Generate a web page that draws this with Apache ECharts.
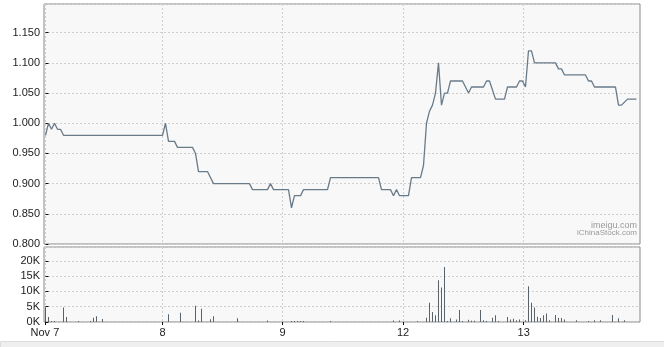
<!DOCTYPE html>
<html><head><meta charset="utf-8">
<script src="https://cdn.jsdelivr.net/npm/echarts@6/dist/echarts.min.js"></script>
<style>html,body{margin:0;padding:0;background:#fff}#c{width:664px;height:347px}</style>
</head><body><div id="c"></div>
<script>
// x positions are in ~10-minute trading slots from the first session start
const dayLabels = ['Nov 7', '8', '9', '12', '13'];
const dayStartSlots = [-0.2, 39, 79, 119.2, 159.4];

const priceSlots = [0,1,2,3,4,5,6,39,40,41,43,44,49,50,51,54,56,68,69,74,75,76,81,82,83,85,86,94,95,111,112,115,116,117,118,121,122,125,126,127,128,129,130,131,132,133,134,135,139,141,142,146,147,148,150,153,154,157,158,159,160,161,162,163,170,171,172,173,180,181,182,183,190,191,192,194,197];
const prices = [0.98,1.00,0.99,1.00,0.99,0.99,0.98,0.98,1.00,0.97,0.97,0.96,0.96,0.95,0.92,0.92,0.90,0.90,0.89,0.89,0.90,0.89,0.89,0.86,0.88,0.88,0.89,0.89,0.91,0.91,0.89,0.89,0.88,0.89,0.88,0.88,0.91,0.91,0.93,1.00,1.02,1.03,1.05,1.10,1.03,1.05,1.05,1.07,1.07,1.05,1.06,1.06,1.07,1.07,1.04,1.04,1.06,1.06,1.07,1.07,1.06,1.12,1.12,1.10,1.10,1.09,1.09,1.08,1.08,1.07,1.07,1.06,1.06,1.03,1.03,1.04,1.04];

const volumeSlots = [0,1,2,3,6,7,11,15,16,17,19,41,45,50,51,52,55,56,64,74,82,83,84,85,86,95,116,118,124,127,128,129,130,131,132,133,134,135,137,138,139,141,142,143,145,146,147,149,150,151,154,155,156,157,158,160,161,162,163,164,165,166,167,168,170,171,172,173,177,181,183,185,189,191,193];
const volumes = [4800,1600,300,300,4700,1600,300,300,1400,1900,1000,2500,3000,5300,500,4300,900,1900,1200,500,300,300,300,300,300,300,500,500,300,1400,6300,3300,2200,13600,11300,18000,300,1200,800,3900,300,700,400,400,3900,600,300,1400,2200,300,1600,800,1100,600,800,600,11700,6300,4700,1700,1300,2200,2800,600,2300,1300,1300,800,600,300,600,600,2300,1200,600];

const watermark = ['imeigu.com', 'iChinaStock.com'];

const chart = echarts.init(document.getElementById('c'), null, {renderer: 'canvas'});
const labelFont = {fontFamily: 'Liberation Sans, Arial, sans-serif', fontSize: 11, color: '#222'};
const dash = {show: true, lineStyle: {color: '#cfcfcf', type: [2, 2], width: 1}};

function xAxisCfg(gi, showLabels) {
  return {
    type: 'value', gridIndex: gi, min: -0.5, max: 198.17,
    axisLine: {show: false},
    axisTick: {show: showLabels, customValues: dayStartSlots, length: 3, inside: false, lineStyle: {color: '#111'}},
    axisLabel: Object.assign({
      show: showLabels, customValues: dayStartSlots, margin: 5,
      formatter: function (v) {
        let best = 0;
        for (let i = 0; i < dayStartSlots.length; i++) if (Math.abs(dayStartSlots[i] - v) < Math.abs(dayStartSlots[best] - v)) best = i;
        return dayLabels[best];
      }
    }, labelFont),
    splitLine: dash
  };
}

chart.setOption({
  animation: false,
  backgroundColor: '#ffffff',
  grid: [
    {left: 44, top: 4, width: 596, height: 240, show: true, backgroundColor: '#f8f8f8', borderColor: '#8a8a8a', borderWidth: 1},
    {left: 44, top: 247, width: 596, height: 75, show: true, backgroundColor: '#f8f8f8', borderColor: '#8a8a8a', borderWidth: 1}
  ],
  xAxis: [xAxisCfg(0, false), xAxisCfg(1, true)],
  yAxis: [
    {
      type: 'value', gridIndex: 0, min: 0.8, max: 1.1975, interval: 0.05,
      axisLine: {show: false},
      axisTick: {show: true, inside: true, length: 3, lineStyle: {color: '#111'}},
      axisLabel: Object.assign({margin: 4, showMaxLabel: false, formatter: v => v.toFixed(3)}, labelFont),
      splitLine: dash
    },
    {
      type: 'value', gridIndex: 1, min: 0, max: 24500, interval: 5000,
      axisLine: {show: false},
      axisTick: {show: true, inside: true, length: 3, lineStyle: {color: '#111'}},
      axisLabel: Object.assign({margin: 4, showMaxLabel: false, formatter: v => (v / 1000) + 'K'}, labelFont),
      splitLine: dash
    }
  ],
  series: [
    {
      type: 'line', xAxisIndex: 0, yAxisIndex: 0, symbol: 'none',
      lineStyle: {color: '#697b89', width: 1.3},
      data: priceSlots.map((s, i) => [s, prices[i]])
    },
    {
      type: 'bar', xAxisIndex: 1, yAxisIndex: 1, barWidth: 1,
      itemStyle: {color: '#58626b'},
      data: volumeSlots.map((s, i) => [s, volumes[i]])
    }
  ],
  graphic: [
    {type: 'text', right: 27, top: 221, style: {text: watermark[0], font: '9px Liberation Sans, Arial, sans-serif', fill: '#9a9a9a', textAlign: 'right'}},
    {type: 'text', right: 27, top: 229, style: {text: watermark[1], font: '8px Liberation Sans, Arial, sans-serif', fill: '#9a9a9a', textAlign: 'right'}},
    {type: 'rect', left: 0, top: 341, shape: {width: 664, height: 6}, style: {fill: '#efefef', stroke: '#dcdcdc', lineWidth: 1}, z: -1}
  ]
});
</script>
</body></html>
